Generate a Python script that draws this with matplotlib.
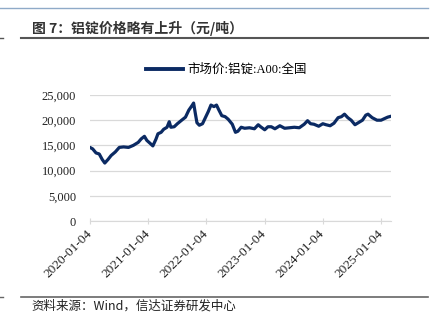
import numpy as np
import pandas as pd
import matplotlib
matplotlib.use('Agg')
import matplotlib.pyplot as plt
from matplotlib.lines import Line2D

plt.rcParams['font.family'] = ['Liberation Serif', 'Noto Sans CJK SC', 'DejaVu Sans']

# aluminium ingot A00 spot price, yuan/ton
dates = ['2020-01-03', '2020-01-20', '2020-02-10', '2020-03-01', '2020-03-20', '2020-04-05',
         '2020-04-25', '2020-05-15', '2020-06-10', '2020-07-05', '2020-08-01', '2020-09-01',
         '2020-10-01', '2020-11-01', '2020-11-20', '2020-12-10', '2020-12-25', '2021-01-15',
         '2021-02-01', '2021-02-20', '2021-03-05', '2021-03-25', '2021-04-10', '2021-05-01',
         '2021-05-15', '2021-05-25', '2021-06-15', '2021-07-05', '2021-08-01', '2021-08-25',
         '2021-09-15', '2021-10-05', '2021-10-15', '2021-10-25', '2021-11-05', '2021-11-20',
         '2021-12-10', '2021-12-25', '2022-01-15', '2022-02-01', '2022-02-20', '2022-03-08',
         '2022-03-20', '2022-04-10', '2022-05-01', '2022-05-20', '2022-06-15', '2022-07-05',
         '2022-07-20', '2022-08-10', '2022-09-01', '2022-10-01', '2022-11-01', '2022-11-25',
         '2022-12-10', '2023-01-05', '2023-01-25', '2023-02-15', '2023-03-10', '2023-04-10',
         '2023-05-10', '2023-06-10', '2023-07-10', '2023-08-10', '2023-09-10', '2023-10-01',
         '2023-10-20', '2023-11-10', '2023-12-10', '2024-01-05', '2024-01-25', '2024-02-20',
         '2024-03-15', '2024-04-10', '2024-05-01', '2024-05-20', '2024-06-10', '2024-07-01',
         '2024-07-25', '2024-08-15', '2024-09-10', '2024-10-01', '2024-10-15', '2024-11-10',
         '2024-12-10', '2025-01-05', '2025-01-25', '2025-02-15', '2025-03-10']
prices = [14600, 14300, 13500, 13300, 12200, 11500,
          12200, 13000, 13700, 14600, 14700, 14600,
          15000, 15600, 16300, 16800, 16000, 15400,
          14900, 16200, 17300, 17600, 18200, 18600,
          19700, 18600, 18700, 19300, 20000, 20600,
          22000, 22900, 23400, 21500, 19500, 19000,
          19300, 20300, 21700, 23000, 22700, 23000,
          22200, 20900, 20700, 20200, 19200, 17600,
          17800, 18600, 18400, 18500, 18300, 19100,
          18700, 18100, 18700, 18700, 18300, 18900,
          18400, 18500, 18600, 18500, 19200, 19900,
          19300, 19200, 18800, 19300, 19100, 18900,
          19400, 20500, 20700, 21200, 20500, 20000,
          19100, 19500, 20000, 21000, 21200, 20500,
          20000, 20000, 20300, 20600, 20800]
tick_dates = ['2020-01-04', '2021-01-04', '2022-01-04', '2023-01-04', '2024-01-04', '2025-01-04']
y_ticks = [0, 5000, 10000, 15000, 20000, 25000]

x = pd.to_datetime(dates)
navy = '#0b2a63'

fig = plt.figure(figsize=(4.36, 3.25), dpi=100)
ax = fig.add_axes([0.2064, 0.32, 0.691, 0.3877])
ax.plot(x, prices, color=navy, lw=2.3, solid_capstyle='round')

ax.set_xlim(x[0], x[-1])
ax.set_ylim(0, 25000)
ax.set_yticks(y_ticks)
ax.set_yticklabels([f'{v:,}' for v in y_ticks])
xt = pd.to_datetime(tick_dates)
ax.set_xticks(xt)
ax.set_xticklabels(tick_dates, rotation=45, ha='right', va='center', rotation_mode='anchor')
ax.tick_params(axis='y', length=0, pad=10, labelsize=9, labelcolor='#222222')
ax.tick_params(axis='x', length=4, direction='inout', color='#d9d9d9', pad=6,
               labelsize=9.6, labelcolor='#222222')
ax.grid(axis='y', color='#d9d9d9', lw=0.9)
ax.set_axisbelow(True)
for s in ['top', 'right', 'left']:
    ax.spines[s].set_visible(False)
ax.spines['bottom'].set_color('#d9d9d9')
ax.spines['bottom'].set_zorder(0)

# legend
leg = ax.legend([Line2D([0], [0], color=navy, lw=2.8)], ['市场价:铝锭:A00:全国'],
                loc='center', bbox_to_anchor=(0.452, 1.2), frameon=False,
                handlelength=3.0, handletextpad=0.3,
                prop={'family': ['Liberation Serif', 'Noto Sans CJK SC', 'DejaVu Sans'], 'size': 9})

# header / footer decoration
fig.add_artist(Line2D([0, 0.982], [0.975, 0.975], color='#8faac8', lw=1.0))
fig.add_artist(Line2D([0.048, 0.982], [0.883, 0.883], color='#555555', lw=1.5))
fig.add_artist(Line2D([0.0, 0.008], [0.883, 0.883], color='#555555', lw=1.0))
fig.add_artist(Line2D([0.048, 0.982], [0.086, 0.086], color='#666666', lw=1.2))
fig.add_artist(Line2D([0.0, 0.008], [0.086, 0.086], color='#666666', lw=1.0))
fig.text(0.073, 0.914, '图 7：铝锭价格略有上升（元/吨）', fontsize=10, fontweight='bold',
         color='#333333', va='center', family=['Noto Sans CJK SC', 'DejaVu Sans'])
fig.text(0.073, 0.058, '资料来源：Wind，信达证券研发中心', fontsize=9, style='italic',
         color='#222222', va='center', family=['Noto Sans CJK SC', 'DejaVu Sans'])

fig.savefig('out.png', dpi=100)
